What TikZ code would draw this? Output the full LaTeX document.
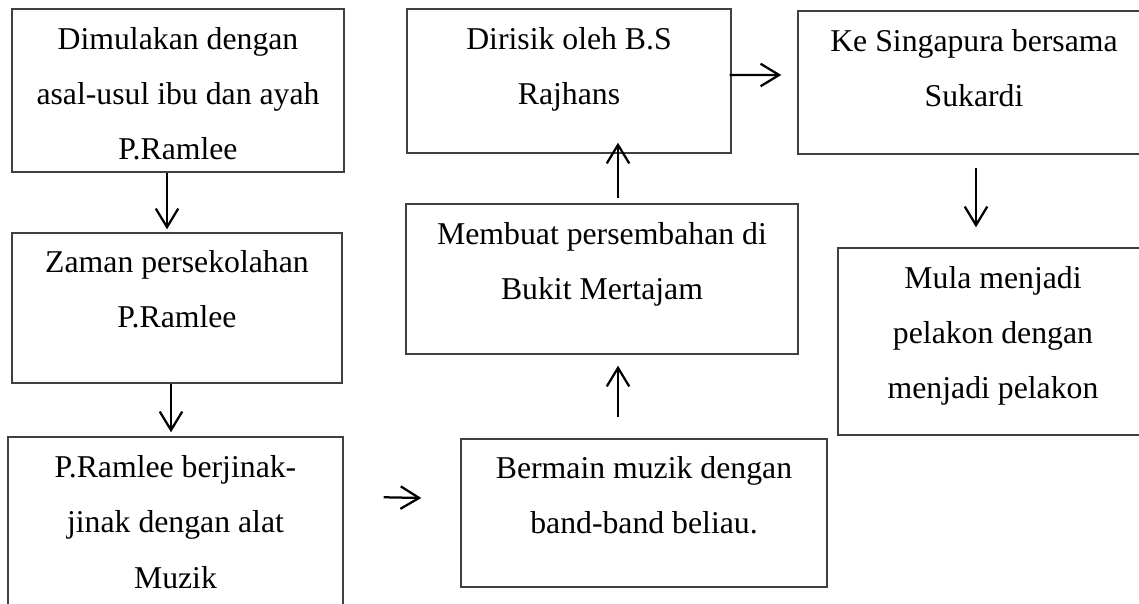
\documentclass[tikz,border=0pt]{standalone}
\usepackage{fontspec}
\setmainfont{Liberation Serif}
\usepackage{tikz}
\usetikzlibrary{arrows.meta,calc,positioning,fit}

\tikzset{
  box/.style={draw=black!75, line width=0.55pt, inner sep=0pt},
  txt/.style={inner sep=0pt, align=center, font=\fontsize{12}{20.8}\selectfont},
  arr/.style={line width=0.85pt, -{Straight Barb[length=7pt,width=8.5pt,line width=0.85pt]}}
}

\begin{document}
\begin{tikzpicture}[x=0.378pt, y=-0.378pt]
\useasboundingbox (0,0) rectangle (1139,604);
% kotak
\node[box, fit={(12,9) (344,172)}] (asal) {};
\node[box, fit={(12,233) (342,383)}] (sekolah) {};
\node[box, fit={(8,437) (343,650)}] (muzik) {};
\node[box, fit={(461,439) (827,587)}] (band) {};
\node[box, fit={(406,204) (798,354)}] (bukit) {};
\node[box, fit={(407,9) (731,153)}] (rajhans) {};
\node[box, fit={(798,11) (1150,154)}] (singapura) {};
\node[box, fit={(838,248) (1148,435)}] (pelakon) {};
% teks
\node[txt, below=0.8pt of asal.north] (tasal) {\strut Dimulakan dengan\\asal-usul ibu dan ayah\\P.Ramlee};
\node[txt, below=0.4pt of sekolah.north] (tsekolah) {\strut Zaman persekolahan\\P.Ramlee};
\node[txt, below=1pt of muzik.north] (tmuzik) {\strut P.Ramlee berjinak-\\jinak dengan alat\\Muzik};
\node[txt, below=0.4pt of band.north] (tband) {\strut Bermain muzik dengan\\band-band beliau.};
\node[txt, below=0.8pt of bukit.north] (tbukit) {\strut Membuat persembahan di\\Bukit Mertajam};
\node[txt, below=0.8pt of rajhans.north] (trajhans) {\strut Dirisik oleh B.S\\Rajhans};
\node[txt, below=1pt of singapura.north] (tsingapura) {\strut Ke Singapura bersama\\Sukardi};
\node[txt, below=0.8pt of pelakon.north] (tpelakon) {\strut Mula menjadi\\pelakon dengan\\menjadi pelakon};
% anak panah
\draw[arr] ($(asal.south)+(-11,0)$) -- ($(sekolah.north)+(-10,-3)$);
\draw[arr] ($(sekolah.south)+(-6,0)$) -- ($(muzik.north)+(-4.5,-4)$);
\draw[arr] ($(muzik.north east)+(40,61)$) -- ($(band.west)+(-39,-15)$);
\draw[arr] ($(band.north)+(-26,-21)$) -- ($(bukit.south)+(16,11)$);
\draw[arr] ($(bukit.north)+(16,-5)$) -- ($(rajhans.south)+(49,-11)$);
\draw[arr] ($(rajhans.east)+(-2,-6)$) -- ($(singapura.west)+(-16,-7.5)$);
\draw[arr] ($(singapura.south)+(2,13)$) -- ($(pelakon.north)+(-17,-20)$);
\end{tikzpicture}
\end{document}
